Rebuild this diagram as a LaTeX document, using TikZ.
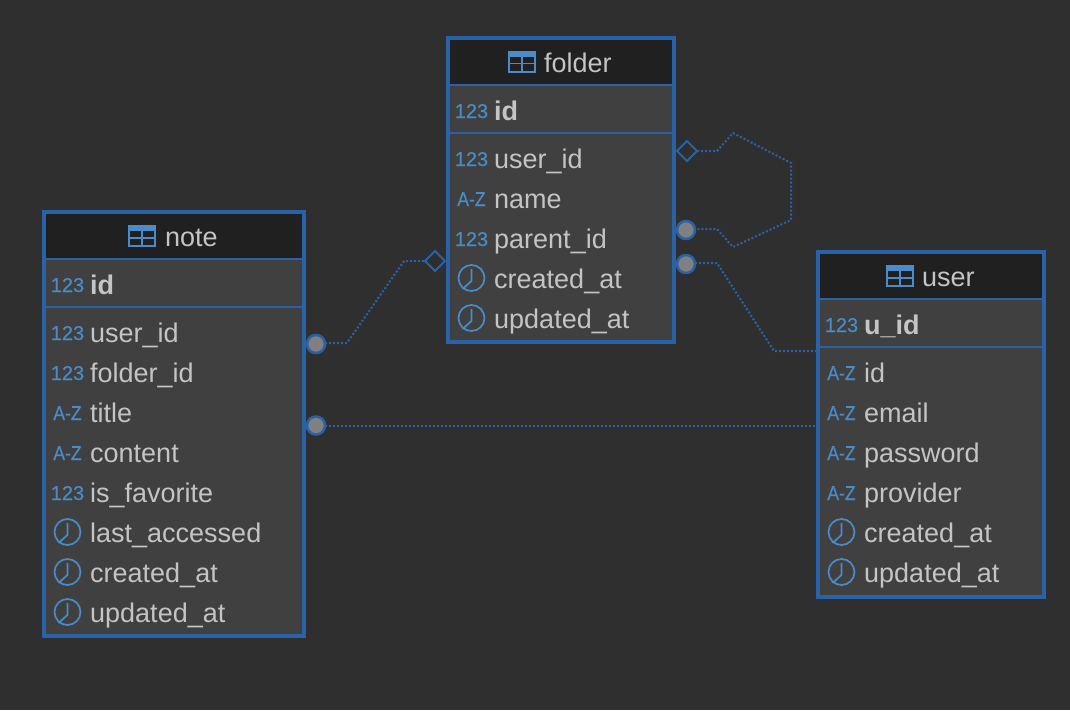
\documentclass[tikz,border=0pt]{standalone}
\usepackage{fontspec}
\setmainfont{Liberation Sans}
\newfontfamily\typefont[FakeBold=0.35]{Liberation Sans}
\usetikzlibrary{shapes.geometric}
\definecolor{bgc}{HTML}{2F2F2F}
\definecolor{hdrc}{HTML}{202020}
\definecolor{bodyc}{HTML}{404040}
\definecolor{edgec}{HTML}{2A62A8}
\definecolor{iconc}{HTML}{4A8BC9}
\definecolor{textc}{HTML}{C4C4C4}
\definecolor{ballc}{HTML}{808080}
\tikzset{
  x=1pt,y=-1pt,
  tablebody/.style={rectangle,fill=bodyc,inner sep=0pt,outer sep=0pt},
  tablehead/.style={rectangle,fill=hdrc,inner sep=0pt,outer sep=0pt},
  tabletitle/.style={anchor=base west,inner sep=0pt,text=textc,font=\fontsize{27}{27}\selectfont},
  fieldtext/.style={anchor=base west,inner sep=0pt,text=textc,font=\fontsize{27}{27}\selectfont},
  keytext/.style={fieldtext,font=\fontsize{27}{27}\selectfont\bfseries},
  typetext/.style={anchor=base,inner sep=0pt,text=iconc,font=\typefont\fontsize{20}{20}\selectfont},
  frameline/.style={draw=edgec,line width=4pt},
  rowline/.style={draw=edgec,line width=2pt},
  iconline/.style={draw=iconc,line width=1.7pt},
  rel/.style={draw=edgec,line width=2pt,dash pattern=on 2pt off 2pt},
  ball/.style={circle,draw=edgec,fill=ballc,line width=2.5pt,minimum size=18pt,inner sep=0pt,outer sep=0pt},
  dia/.style={diamond,draw=edgec,fill=bgc,line width=2pt,minimum size=20pt,inner sep=0pt,outer sep=0pt},
}
% type icons: x of field text start, y of row centre
\newcommand{\fnum}[2]{\node[typetext] at ({#1-22.5},{#2+7}) {123};}
\newcommand{\falpha}[2]{\node[typetext] at ({#1-22.5},{#2+7}) {\scalebox{.88}[1]{A-Z}};}
\newcommand{\fclock}[2]{%
  \draw[iconline] ({#1-22.5},{#2-1}) circle[radius=13];
  \draw[iconline] ({#1-22.5},{#2-10}) -- ({#1-22.5},{#2+2}) -- ({#1-31.5},{#2+10});}
% table icon at top-left x,y
\newcommand{\ticon}[2]{%
  \fill[iconc] (#1,#2) rectangle ({#1+28},{#2+6});
  \draw[iconline] ({#1+.8},{#2+1}) rectangle ({#1+27.2},{#2+21.2});
  \draw[iconline] ({#1+14},{#2+6}) -- ({#1+14},{#2+21});
  \draw[iconline] (#1,{#2+13}) -- ({#1+28},{#2+13});}
% name, title, x1, y1, x2, y2, icon x, title x
\newcommand{\dbtable}[8]{%
  \path ({(#3+#5)/2},{(#4+#6)/2}) node[tablebody,minimum width={(#5-#3)*1pt},minimum height={(#6-#4)*1pt}] (#1) {};
  \path ({(#3+#5)/2},{#4+23.5}) node[tablehead,minimum width={(#5-#3)*1pt},minimum height=47pt] (#1-head) {};
  \ticon{#7}{#4+13}
  \node[tabletitle] (#1-title) at (#8,{#4+34.5}) {#2};
  \draw[rowline] (#3,{#4+47}) -- (#5,{#4+47});
  \draw[rowline] (#3,{#4+95}) -- (#5,{#4+95});
}
\newcommand{\tborder}[1]{\draw[frameline] (#1.north west) rectangle (#1.south east);}
\begin{document}
\begin{tikzpicture}
\useasboundingbox (0,0) rectangle (1070,710);
\fill[bgc] (0,0) rectangle (1070,710);

% folder
\dbtable{folder}{folder}{448}{37.5}{674}{342}{508}{544}
\fnum{494}{111}
\node[keytext] (folder-key) at (494,120) {id};
\foreach \i/\ic/\t [evaluate=\i as \yy using {159+40*(\i-1)}] in {1/\fnum/user\_id,2/\falpha/name,3/\fnum/parent\_id,4/\fclock/created\_at,5/\fclock/updated\_at}{
  \ic{494}{\yy}
  \node[fieldtext] (folder-\i) at (494,{\yy+9}) {\t};
}

% note
\dbtable{note}{note}{44}{212}{304}{636}{128}{165}
\fnum{90}{285}
\node[keytext] (note-key) at (90,294) {id};
\foreach \i/\ic/\t [evaluate=\i as \yy using {333+40*(\i-1)}] in {1/\fnum/user\_id,2/\fnum/folder\_id,3/\falpha/title,4/\falpha/content,5/\fnum/is\_favorite,6/\fclock/last\_accessed,7/\fclock/created\_at,8/\fclock/updated\_at}{
  \ic{90}{\yy}
  \node[fieldtext] (note-\i) at (90,{\yy+9}) {\t};
}

% user
\dbtable{user}{user}{818}{252}{1044}{596.5}{886}{922}
\fnum{864}{325}
\node[keytext] (user-key) at (864,334) {u\_id};
\foreach \i/\ic/\t [evaluate=\i as \yy using {373+40*(\i-1)}] in {1/\falpha/id,2/\falpha/email,3/\falpha/password,4/\falpha/provider,5/\fclock/created\_at,6/\fclock/updated\_at}{
  \ic{864}{\yy}
  \node[fieldtext] (user-\i) at (864,{\yy+9}) {\t};
}

\tborder{folder}
\tborder{note}
\tborder{user}

% relation ends
\node[dia] (fself) at (687,151) {};
\node[ball] (fparent) at (686,230) {};
\node[ball] (fuser) at (686,264) {};
\node[dia] (ffolder) at (435,261) {};
\node[ball] (nfolder) at (316,344) {};
\node[ball] (nuser) at (316,425.5) {};

% connector bends
\coordinate (s1) at (717,151);
\coordinate (s2) at (733,133);
\coordinate (s3) at (791,163);
\coordinate (s4) at (791,220);
\coordinate (s5) at (733,247);
\coordinate (s6) at (717,229);
\coordinate (u1) at (717,263);
\coordinate (u2) at (774,351);
\coordinate (n1) at (347,343);
\coordinate (n2) at (404,261);

\draw[rel] (fself.east) -- (s1) -- (s2) -- (s3) -- (s4) -- (s5) -- (s6) -- (fparent.east |- s6);
\draw[rel] (fuser.east |- u1) -- (u1) -- (u2) -- (u2 -| user.west);
\draw[rel] (nfolder.east |- n1) -- (n1) -- (n2) -- (ffolder.west);
\draw[rel] (nuser.east) -- (nuser -| user.west);
\end{tikzpicture}
\end{document}
